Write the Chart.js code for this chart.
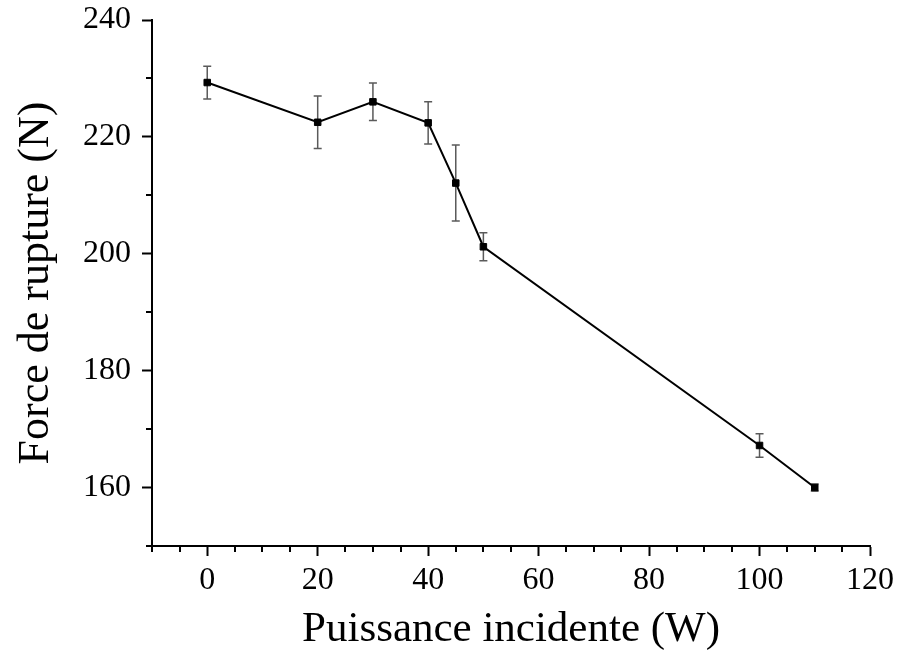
<!DOCTYPE html>
<html>
<head>
<meta charset="utf-8">
<script src="https://cdn.jsdelivr.net/npm/chart.js@4"></script>
<style>
  html, body { margin: 0; padding: 0; background: #fff; }
  #wrap { width: 899px; height: 656px; }
</style>
</head>
<body>
<div id="wrap"><canvas id="chart"></canvas></div>
<script>
// data
const puissance = [0, 20, 30, 40, 45, 50, 100, 110];
const force = [229.3, 222.5, 226.0, 222.4, 212.1, 201.2, 167.2, 160.0];
const ecart = [2.8, 4.5, 3.2, 3.6, 6.5, 2.4, 2.0, 0.6];

const xTitle = "Puissance incidente (W)";
const yTitle = "Force de rupture (N)";

const serif = "'Liberation Serif', 'Times New Roman', serif";

// error bars drawn under the line, through the chart scales
const errorBars = {
    id: "errorBars",
    beforeDatasetsDraw(chart) {
        const ctx = chart.ctx;
        const xs = chart.scales.x;
        const ys = chart.scales.y;
        ctx.save();
        ctx.strokeStyle = "#5a5a5a";
        ctx.lineWidth = 1.5;
        for (let i = 0; i < puissance.length; i++) {
            const px = xs.getPixelForValue(puissance[i]);
            const top = ys.getPixelForValue(force[i] + ecart[i]);
            const bot = ys.getPixelForValue(force[i] - ecart[i]);
            ctx.beginPath();
            ctx.moveTo(px, top);
            ctx.lineTo(px, bot);
            ctx.moveTo(px - 4, top);
            ctx.lineTo(px + 4, top);
            ctx.moveTo(px - 4, bot);
            ctx.lineTo(px + 4, bot);
            ctx.stroke();
        }
        ctx.restore();
    }
};

// short minor ticks (the long major ones come from the grid options)
const minorTicks = {
    id: "minorTicks",
    afterDraw(chart) {
        const ctx = chart.ctx;
        const area = chart.chartArea;
        const xs = chart.scales.x;
        const ys = chart.scales.y;
        ctx.save();
        ctx.strokeStyle = "#000";
        ctx.lineWidth = 2;
        ctx.beginPath();
        xs.ticks.forEach(t => {
            if (t.value % 20 !== 0) {
                const px = Math.round(xs.getPixelForValue(t.value));
                ctx.moveTo(px, area.bottom);
                ctx.lineTo(px, area.bottom + 6);
            }
        });
        ys.ticks.forEach(t => {
            if (t.value % 20 !== 0) {
                const py = Math.round(ys.getPixelForValue(t.value));
                ctx.moveTo(area.left, py);
                ctx.lineTo(area.left - 6, py);
            }
        });
        ctx.stroke();
        ctx.restore();
    }
};

const majorColor = c => (c.tick && c.tick.value % 20 === 0) ? "#000" : "rgba(0,0,0,0)";

new Chart(document.getElementById("chart"), {
    type: "line",
    data: {
        datasets: [{
            data: puissance.map((x, i) => ({ x: x, y: force[i] })),
            borderColor: "#000",
            borderWidth: 2,
            backgroundColor: "#000",
            pointStyle: "rect",
            pointRadius: 4.6,
            pointBorderWidth: 1,
            pointBorderColor: "#000",
            pointBackgroundColor: "#000",
            tension: 0,
            fill: false
        }]
    },
    options: {
        responsive: true,
        maintainAspectRatio: false,
        animation: false,
        layout: { padding: { left: 0, right: 29, top: 20, bottom: 0 } },
        plugins: {
            legend: { display: false },
            tooltip: { enabled: false }
        },
        scales: {
            x: {
                type: "linear",
                min: -10,
                max: 120,
                afterFit: s => { s.height = 110; s.paddingLeft = 0; s.paddingRight = 0; },
                border: { display: true, color: "#000", width: 2 },
                grid: {
                    drawOnChartArea: false,
                    drawTicks: true,
                    tickLength: 10,
                    tickWidth: 2,
                    tickColor: majorColor
                },
                ticks: {
                    stepSize: 5,
                    autoSkip: false,
                    maxRotation: 0,
                    padding: 5,
                    color: "#000",
                    font: { family: serif, size: 32 },
                    callback: v => (v % 20 === 0 ? String(v) : "")
                },
                title: {
                    display: true,
                    text: xTitle,
                    color: "#000",
                    font: { family: serif, size: 43 },
                    padding: { top: 0, bottom: 0 }
                }
            },
            y: {
                type: "linear",
                min: 150,
                max: 240,
                afterFit: s => { s.width = 152; s.paddingTop = 0; s.paddingBottom = 0; },
                border: { display: true, color: "#000", width: 2 },
                grid: {
                    drawOnChartArea: false,
                    drawTicks: true,
                    tickLength: 10,
                    tickWidth: 2,
                    tickColor: majorColor
                },
                ticks: {
                    stepSize: 10,
                    autoSkip: false,
                    padding: 11,
                    color: "#000",
                    font: { family: serif, size: 32 },
                    callback: v => (v % 20 === 0 ? String(v) : "")
                },
                title: {
                    display: true,
                    text: yTitle,
                    color: "#000",
                    font: { family: serif, size: 44 },
                    padding: { top: 10, bottom: 0 }
                }
            }
        }
    },
    plugins: [errorBars, minorTicks]
});
</script>
</body>
</html>
